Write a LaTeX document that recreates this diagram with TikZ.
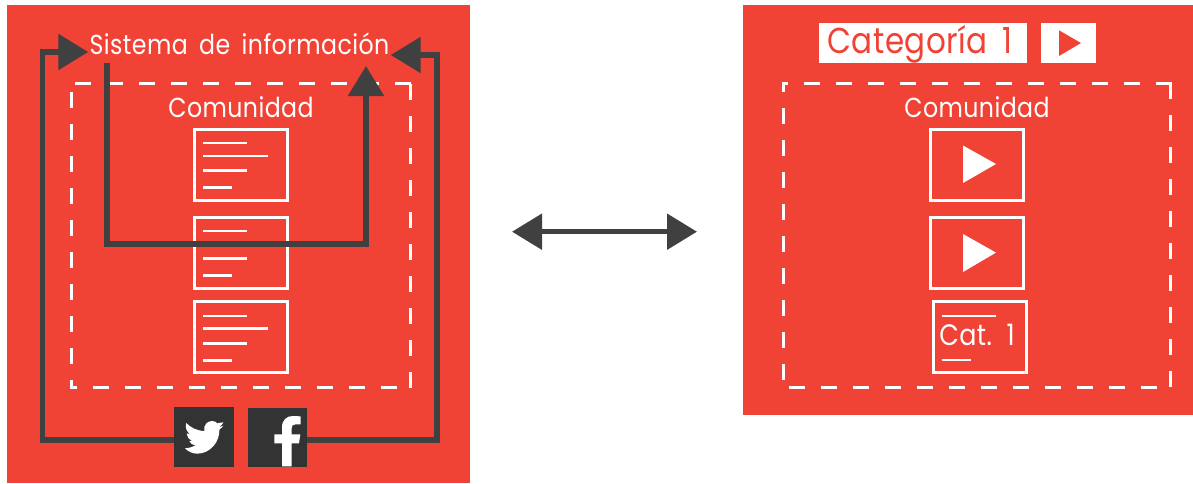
\documentclass[tikz,border=0pt]{standalone}
\usepackage{fontspec}
\setmainfont{Poppins}[FakeStretch=0.86,WordSpace=1.7,LetterSpace=1.5]
\usetikzlibrary{arrows.meta}
\definecolor{brickred}{HTML}{F14236}
\definecolor{darkline}{HTML}{404041}
\definecolor{iconbg}{HTML}{333333}
\tikzset{
  x=1pt,y=-1pt,
  panel/.style={fill=brickred,draw=none},
  dashline/.style={draw=white,line width=3pt,dash pattern=on 16pt off 16pt},
  framebox/.style={draw=white,line width=3pt,minimum width=93pt,minimum height=71pt,inner sep=0pt},
  txtline/.style={draw=white,line width=2.6pt},
  playtri/.style={fill=white,draw=none},
  label/.style={text=white,inner sep=0pt,font=\fontsize{27.5}{27.5}\selectfont},
  conn/.style={draw=darkline,line width=5.4pt,line join=miter},
  tipped/.style={conn,-{Triangle[length=30pt,width=35pt]}},
  icon/.style={fill=iconbg,draw=none,inner sep=0pt},
  catbox/.style={fill=white,draw=none,inner sep=0pt,minimum height=40pt},
}
\begin{document}
\begin{tikzpicture}
\useasboundingbox (0,0) rectangle (1193,483);
% panels
\fill[panel] (7,5) rectangle (470,483);
\fill[panel] (743,5) rectangle (1193,415);
% left dashed frame
\draw[dashline] (75,83) -- (411.5,83);
\draw[dashline] (71,92) -- (71,388.5);
\draw[dashline] (410.5,84) -- (410.5,388);
\draw[dashline] (397,387) -- (69.7,387);
% right dashed frame
\draw[dashline] (1172,83) -- (781.7,83);
\draw[dashline] (1170.5,83) -- (1170.5,387.5);
\draw[dashline] (783,380) -- (783,81.7);
\draw[dashline] (789,387) -- (1157,387);
% titles
\node[label,minimum width=302pt,minimum height=30pt] (title) at (239.5,44) {Sistema de información};
\node[label] (comL) at (241,107) {Comunidad};
\node[label] (comR) at (977,107) {Comunidad};
\node[catbox,minimum width=208pt] (cat) at (923,43) {};
\node[label,text=brickred,font=\fontsize{36}{36}\selectfont] (catlabel) at (920,44) {Categoría 1};
\node[catbox,minimum width=55pt] (catplay) at (1068.5,43) {};
\fill[brickred] (1059,30.3) -- (1081,43) -- (1059,56) -- cycle;
% left document boxes
\node[framebox] (docA) at (241,164.5) {};
\node[framebox] (docB) at (241,252.5) {};
\node[framebox] (docC) at (241,337) {};
\draw[txtline] (203,143) -- (247,143) (203,156) -- (268,156) (203,170.5) -- (247,170.5) (203,187.5) -- (232,187.5);
\draw[txtline] (203,231) -- (247,231) (203,258.7) -- (247,258.7) (203,275.3) -- (232,275.3);
\draw[txtline] (203,316) -- (247,316) (203,328.7) -- (268,328.7) (203,343.5) -- (247,343.5) (203,360.3) -- (232,360.3);
% right boxes
\node[framebox] (playA) at (976.5,164.5) {};
\node[framebox] (playB) at (976.5,252.5) {};
\node[framebox] (catdoc) at (979.5,337) {};
\fill[playtri] (963,145.5) -- (996,164) -- (963,183) -- cycle;
\fill[playtri] (963,234) -- (996,252.6) -- (963,272) -- cycle;
\draw[txtline] (941.7,316) -- (996,316) (941.7,360) -- (971,360);
\node[label,font=\fontsize{29.5}{29.5}\selectfont] (catone) at (977,335) {Cat. 1};
% icons
\node[icon,minimum width=60pt,minimum height=60pt] (tw) at (204,437) {};
\node[icon,minimum width=59pt,minimum height=59pt] (fb) at (277.5,437.5) {};
\begin{scope}[shift={(160,395)},scale=1/3]
\fill[white] (75,160) .. controls (90,158) and (100,156) .. (108,150)
 .. controls (98,150) and (90,146) .. (88,138)
 .. controls (91,138) and (94,138) .. (97,137)
 .. controls (86,133) and (80,125) .. (80,115)
 .. controls (84,117) and (87,118) .. (91,118)
 .. controls (80,110) and (74,98) .. (79,84)
 .. controls (92,98) and (110,107) .. (133,108)
 .. controls (129,90) and (143,78) .. (156,78)
 .. controls (164,78) and (168,81) .. (172,85)
 .. controls (178,84) and (184,82) .. (190,82)
 .. controls (187,88) and (184,92) .. (178,95)
 .. controls (183,95) and (187,94) .. (190,92)
 .. controls (187,97) and (183,100) .. (178,104)
 .. controls (180,140) and (150,176) .. (112,176)
 .. controls (98,176) and (85,170) .. (75,160) -- cycle;
\fill[white] (366,214) -- (366,145) -- (343,145) -- (343,118) -- (366,118) -- (366,97)
 .. controls (366,75) and (380,63) .. (398,63) -- (422,64) -- (422,88) -- (407,88)
 .. controls (398,88) and (395,92) .. (395,100) -- (395,118) -- (421,118) -- (417,145) -- (395,145) -- (395,214) -- cycle;
\end{scope}
% connectors
\coordinate (loopstart) at (107,63);
\coordinate (loopend) at (366,66);
\draw[tipped] (tw.west |- 0,440) -- (42.5,440) -- (42.5,52) -- (title.west |- 0,52);
\draw[tipped] (fb.east |- 0,440) -- (437,440) -- (437,55) -- (title.east |- 0,55);
\draw[tipped] (loopstart) -- (107,244) -- (366,244) -- (loopend);
\coordinate (exchL) at (512,231.7);
\coordinate (exchR) at (697,231.7);
\draw[conn,{Triangle[length=30pt,width=35pt]}-{Triangle[length=30pt,width=35pt]}] (exchL) -- (exchR);
\end{tikzpicture}
\end{document}
